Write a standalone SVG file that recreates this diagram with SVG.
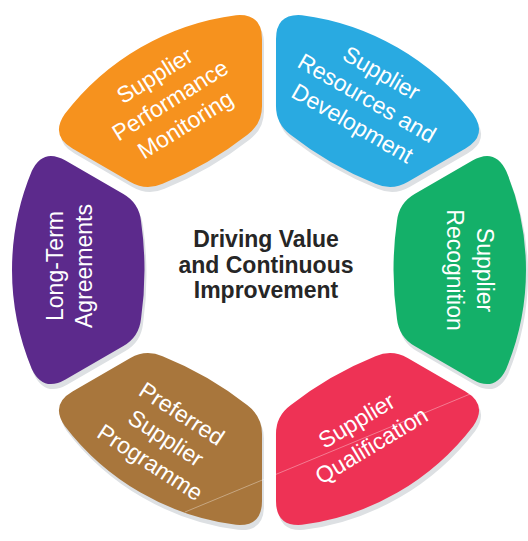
<svg xmlns="http://www.w3.org/2000/svg" xmlns:xlink="http://www.w3.org/1999/xlink" width="528" height="541" viewBox="0 0 528 541">
  <defs>
    <path id="seg" d="M 145.6,-76 L 203.5,-109.4 Q 226,-122.4 237.2,-98.9 A 257 257 0 0 1 237.2,98.9 Q 226,122.4 203.5,109.4 L 145.6,76 Q 130,67 128,49 Q 121,0 128,-49 Q 130,-67 145.6,-76 Z"/>
  </defs>
  <style>
    .shadow { fill: #dde0e3; }
    .lbl { font-family: "Liberation Sans", Arial, sans-serif; font-size: 23px; fill: #ffffff; text-anchor: middle; }
    .ctr { font-family: "Liberation Sans", Arial, sans-serif; font-size: 23px; font-weight: bold; fill: #262626; text-anchor: middle; }
  </style>
  <rect width="528" height="541" fill="#ffffff"/>

  <g id="shadows">
    <use xlink:href="#seg" class="shadow" transform="translate(271,275) rotate(-120)"/>
    <use xlink:href="#seg" class="shadow" transform="translate(271,275) rotate(-60)"/>
    <use xlink:href="#seg" class="shadow" transform="translate(271,275) rotate(0)"/>
    <use xlink:href="#seg" class="shadow" transform="translate(271,275) rotate(60)"/>
    <use xlink:href="#seg" class="shadow" transform="translate(271,275) rotate(120)"/>
    <use xlink:href="#seg" class="shadow" transform="translate(271,275) rotate(180)"/>
  </g>

  <g id="node-performance-monitoring">
    <use xlink:href="#seg" fill="#f6921e" transform="translate(269,270) rotate(-120)"/>
    <g transform="translate(170,100) rotate(-32)">
      <text class="lbl" x="0" y="-21">Supplier</text>
      <text class="lbl" x="0" y="8">Performance</text>
      <text class="lbl" x="0" y="37">Monitoring</text>
    </g>
  </g>

  <g id="node-resources-development">
    <use xlink:href="#seg" fill="#29aae1" transform="translate(269,270) rotate(-60)"/>
    <g transform="translate(367,98) rotate(30)">
      <text class="lbl" x="0" y="-21">Supplier</text>
      <text class="lbl" x="0" y="8">Resources and</text>
      <text class="lbl" x="0" y="37">Development</text>
    </g>
  </g>

  <g id="node-recognition">
    <use xlink:href="#seg" fill="#14b069" transform="translate(269,270) rotate(0)"/>
    <g transform="translate(462,270) rotate(90)">
      <text class="lbl" x="0" y="-15">Supplier</text>
      <text class="lbl" x="0" y="15">Recognition</text>
    </g>
  </g>

  <g id="node-qualification">
    <use xlink:href="#seg" fill="#ee3255" transform="translate(269,270) rotate(60)"/>
    <g transform="translate(364,433) rotate(-31)">
      <text class="lbl" x="0" y="-6.5">Supplier</text>
      <text class="lbl" x="0" y="22.5">Qualification</text>
    </g>
  </g>

  <g id="node-preferred-supplier">
    <use xlink:href="#seg" fill="#a8763c" transform="translate(269,270) rotate(120)"/>
    <g transform="translate(166,438) rotate(33)">
      <text class="lbl" x="0" y="-21">Preferred</text>
      <text class="lbl" x="0" y="8">Supplier</text>
      <text class="lbl" x="0" y="37">Programme</text>
    </g>
  </g>

  <g id="node-long-term">
    <use xlink:href="#seg" fill="#5c2a8c" transform="translate(269,270) rotate(180)"/>
    <g transform="translate(77,266) rotate(-90)">
      <text class="lbl" x="0" y="-14">Long-Term</text>
      <text class="lbl" x="0" y="15">Agreements</text>
    </g>
  </g>

  <g id="connectors"></g>

  <line x1="185" y1="512" x2="475" y2="392" stroke="#ffffff" stroke-opacity="0.45" stroke-width="0.8"/>

  <g id="node-center">
    <text class="ctr" x="266" y="247">Driving Value</text>
    <text class="ctr" x="266" y="272.5">and Continuous</text>
    <text class="ctr" x="266" y="298">Improvement</text>
  </g>
</svg>
